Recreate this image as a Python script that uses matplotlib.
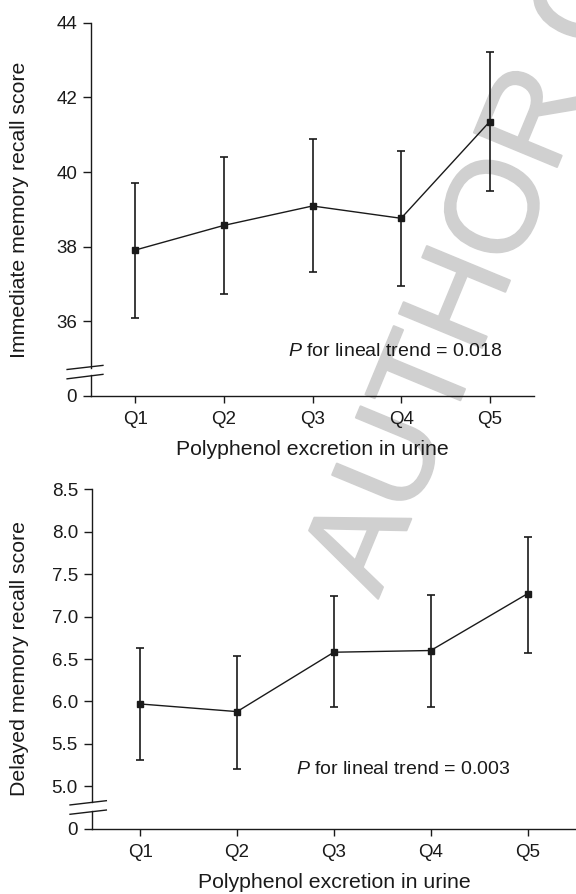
import matplotlib
matplotlib.use("Agg")
import matplotlib.pyplot as plt
import matplotlib.transforms as mtransforms
import matplotlib.patheffects as pe

plt.rcParams['font.family'] = ['Liberation Sans', 'DejaVu Sans']
plt.rcParams['mathtext.fontset'] = 'custom'
plt.rcParams['mathtext.it'] = 'Liberation Sans:italic'
plt.rcParams['mathtext.rm'] = 'Liberation Sans'

# quintiles of urinary polyphenol excretion
quintiles = ['Q1', 'Q2', 'Q3', 'Q4', 'Q5']
x_pos = [1, 2, 3, 4, 5]

# immediate memory recall (mean, lower CI, upper CI)
imm_mean = [37.91, 38.57, 39.09, 38.76, 41.35]
imm_low = [36.10, 36.73, 37.31, 36.95, 39.49]
imm_high = [39.70, 40.41, 40.88, 40.56, 43.21]
imm_ticks = [34, 36, 38, 40, 42, 44]
imm_ticklabels = ['0', '36', '38', '40', '42', '44']

# delayed memory recall (mean, lower CI, upper CI)
del_mean = [5.97, 5.88, 6.58, 6.60, 7.27]
del_low = [5.31, 5.20, 5.93, 5.93, 6.57]
del_high = [6.63, 6.53, 7.24, 7.26, 7.94]
del_ticks = [4.5, 5.0, 5.5, 6.0, 6.5, 7.0, 7.5, 8.0, 8.5]
del_ticklabels = ['0', '5.0', '5.5', '6.0', '6.5', '7.0', '7.5', '8.0', '8.5']

INK = '#1a1a1a'
W, H = 576, 894


def draw_panel(ax, mean, low, high, ticks, ticklabels, ylim, gap, slashes,
               ylabel, ptext, ptext_xy, ylabel_x, xlabel_y):
    yerr = [[m - l for m, l in zip(mean, low)], [h - m for m, h in zip(mean, high)]]
    ax.errorbar(x_pos, mean, yerr=yerr, color=INK, lw=1.0, elinewidth=1.2,
                capsize=3, capthick=1.2, marker='s', ms=4, mfc=INK, mec=INK)
    ax.set_xlim(0.5, 5.5)
    ax.set_ylim(*ylim)
    ax.set_xticks(x_pos)
    ax.set_xticklabels(quintiles)
    ax.set_yticks(ticks)
    ax.set_yticklabels(ticklabels)
    ax.patch.set_facecolor('none')
    for s in ['top', 'right', 'left']:
        ax.spines[s].set_visible(False)
    ax.spines['bottom'].set_color(INK)
    ax.spines['bottom'].set_linewidth(1.0)
    ax.tick_params(axis='both', colors=INK, labelsize=13.5, width=1.0)
    ax.tick_params(axis='y', length=6, pad=4)
    ax.tick_params(axis='x', length=5, pad=6)

    # broken y axis
    tr = mtransforms.blended_transform_factory(ax.transAxes, ax.transData)
    ax.plot([0, 0], [gap[1], ylim[1]], color=INK, lw=1.0, transform=tr, clip_on=False)
    ax.plot([0, 0], [ylim[0], gap[0]], color=INK, lw=1.0, transform=tr, clip_on=False)
    for (x0, y0, x1, y1) in slashes:
        ax.plot([x0, x1], [y0, y1], color=INK, lw=1.0, transform=tr, clip_on=False)

    ax.set_ylabel(ylabel, fontsize=15.3, color=INK)
    ax.yaxis.set_label_coords(ylabel_x, 0.5)
    ax.set_xlabel('Polyphenol excretion in urine', fontsize=15.3, color=INK)
    ax.xaxis.set_label_coords(0.5, xlabel_y)
    ax.text(ptext_xy[0], ptext_xy[1], ptext, transform=ax.transAxes,
            fontsize=14, color=INK, ha='left', va='center')


fig = plt.figure(figsize=(W / 100, H / 100), dpi=100)

# watermark
wm = fig.text(378 / W, 1 - 599 / H, 'AUTHOR COPY', fontsize=94, color='#d0d0d0',
              rotation=67.5, rotation_mode='anchor', ha='left', va='baseline', zorder=-5)
wm.set_path_effects([pe.withStroke(linewidth=1.5, foreground='#d0d0d0')])

ax1 = fig.add_axes([91 / W, 1 - 396 / H, 443 / W, (396 - 22.7) / H])
draw_panel(ax1, imm_mean, imm_low, imm_high, imm_ticks, imm_ticklabels,
           (34, 44), (34.55, 34.75),
           [(-0.054, 34.71, 0.027, 34.82), (-0.054, 34.46, 0.027, 34.58)],
           'Immediate memory recall score', r'$P$ for lineal trend = 0.018',
           (0.445, 0.12), -0.14, -0.118)

ax2 = fig.add_axes([91.8 / W, 1 - 828.7 / H, (W - 91.8) / W, (828.7 - 489.3) / H])
draw_panel(ax2, del_mean, del_low, del_high, del_ticks, del_ticklabels,
           (4.5, 8.5), (4.71, 4.82),
           [(-0.045, 4.78, 0.030, 4.83), (-0.045, 4.67, 0.030, 4.72)],
           'Delayed memory recall score', r'$P$ for lineal trend = 0.003',
           (0.422, 0.173), -0.13, -0.13)

fig.savefig('out.png', dpi=100)
